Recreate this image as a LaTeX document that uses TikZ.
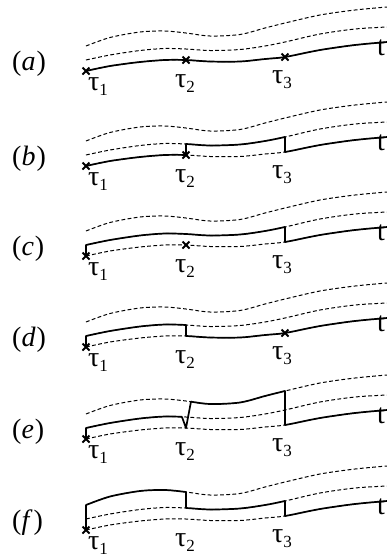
\documentclass[tikz,border=0pt]{standalone}
\usepackage{fontspec}
\setmainfont{Liberation Serif}
\tikzset{
  dsh/.style={line width=1pt, dash pattern=on 3.8pt off 2.4pt},
  sol/.style={line width=1.7pt, line cap=round, line join=round},
  xm/.style={line width=1.9pt},
  lab/.style={font=\fontsize{28}{32}\selectfont, inner sep=0pt},
}
\newcommand\Lz{plot[smooth,tension=0.5] coordinates{(86,0)(110,-5)(140,-9)(165,-11)(186,-11)(210,-9.5)(240,-9.5)(265,-12)(285,-14)(320,-21)(355,-26)(387,-29)}}
\newcommand\Lo{plot[smooth,tension=0.5] coordinates{(86,-11)(110,-16)(140,-20.5)(165,-22.5)(186,-22)(210,-20.5)(240,-21.5)(265,-25)(285,-29)(320,-37)(355,-42)(387,-44)}}
\newcommand\Lt{plot[smooth,tension=0.5] coordinates{(86,-25)(110,-33.5)(140,-39)(165,-40)(186,-38)(210,-35)(240,-36.5)(265,-43)(285,-48)(320,-56)(355,-61)(387,-64)}}
\newcommand\seg[3]{\begin{scope}\clip (#1,-100) rectangle (#2,100); \draw[sol] #3;\end{scope}}
\newcommand\crossat[2]{\draw[xm] (#1,#2) ++(-3.5,-3.5) -- ++(7,7) ++(0,-7) -- ++(-7,7);}
\newcommand\sub[1]{\raisebox{-5pt}{\fontsize{17}{17}\selectfont #1}}
\newcommand\labels[2]{%
  \node[lab, anchor=base west] (p#1) at (12,-1) {(\textit{#2}\kern1pt)};
  \node[lab, anchor=base west] (ta#1) at (88,19) {τ\sub{1}};
  \node[lab, anchor=base west] (tb#1) at (175,16) {τ\sub{2}};
  \node[lab, anchor=base west] (tc#1) at (272,12) {τ\sub{3}};
  \node[lab, anchor=base] (t#1) at (381,-16) {t};
  \draw[dsh] \Lz; \draw[dsh] \Lo; \draw[dsh] \Lt;}
\begin{document}
\begin{tikzpicture}[x=1pt,y=-1pt]
\useasboundingbox (0,0) rectangle (387,558);
% (a)
\begin{scope}[shift={(0,71)}]
  \labels{a}{a}
  \draw[sol] \Lz;
  \crossat{86}{0}\crossat{186}{-11}\crossat{285}{-14}
\end{scope}
% (b)
\begin{scope}[shift={(0,166)}]
  \labels{b}{b}
  \seg{86}{186}{\Lz}
  \draw[sol] (186,-11) -- (186,-22);
  \seg{186}{285}{\Lo}
  \draw[sol] (285,-29) -- (285,-14);
  \seg{285}{387}{\Lz}
  \crossat{86}{0}\crossat{186}{-11}
\end{scope}
% (c)
\begin{scope}[shift={(0,256)}]
  \labels{c}{c}
  \draw[sol] (86,0) -- (86,-11);
  \seg{86}{285}{\Lo}
  \draw[sol] (285,-29) -- (285,-14);
  \seg{285}{387}{\Lz}
  \crossat{86}{0}\crossat{186}{-11}
\end{scope}
% (d)
\begin{scope}[shift={(0,347)}]
  \labels{d}{d}
  \draw[sol] (86,0) -- (86,-11);
  \seg{86}{186}{\Lo}
  \draw[sol] (186,-22) -- (186,-11);
  \seg{186}{387}{\Lz}
  \crossat{86}{0}\crossat{285}{-14}
\end{scope}
% (e)
\begin{scope}[shift={(0,439)}]
  \labels{e}{e}
  \draw[sol] (86,0) -- (86,-11);
  \seg{86}{182}{\Lo}
  \draw[sol] (182,-22) -- (186,-11) -- (191,-37.5);
  \seg{191}{285}{\Lt}
  \draw[sol] (285,-48) -- (285,-14);
  \seg{285}{387}{\Lz}
  \crossat{86}{0}
\end{scope}
% (f)
\begin{scope}[shift={(0,530)}]
  \labels{f}{f}
  \draw[sol] (86,0) -- (86,-25);
  \seg{86}{186}{\Lt}
  \draw[sol] (186,-38) -- (186,-22);
  \seg{186}{285}{\Lo}
  \draw[sol] (285,-29) -- (285,-14);
  \seg{285}{387}{\Lz}
  \crossat{86}{0}
\end{scope}
\end{tikzpicture}
\end{document}
